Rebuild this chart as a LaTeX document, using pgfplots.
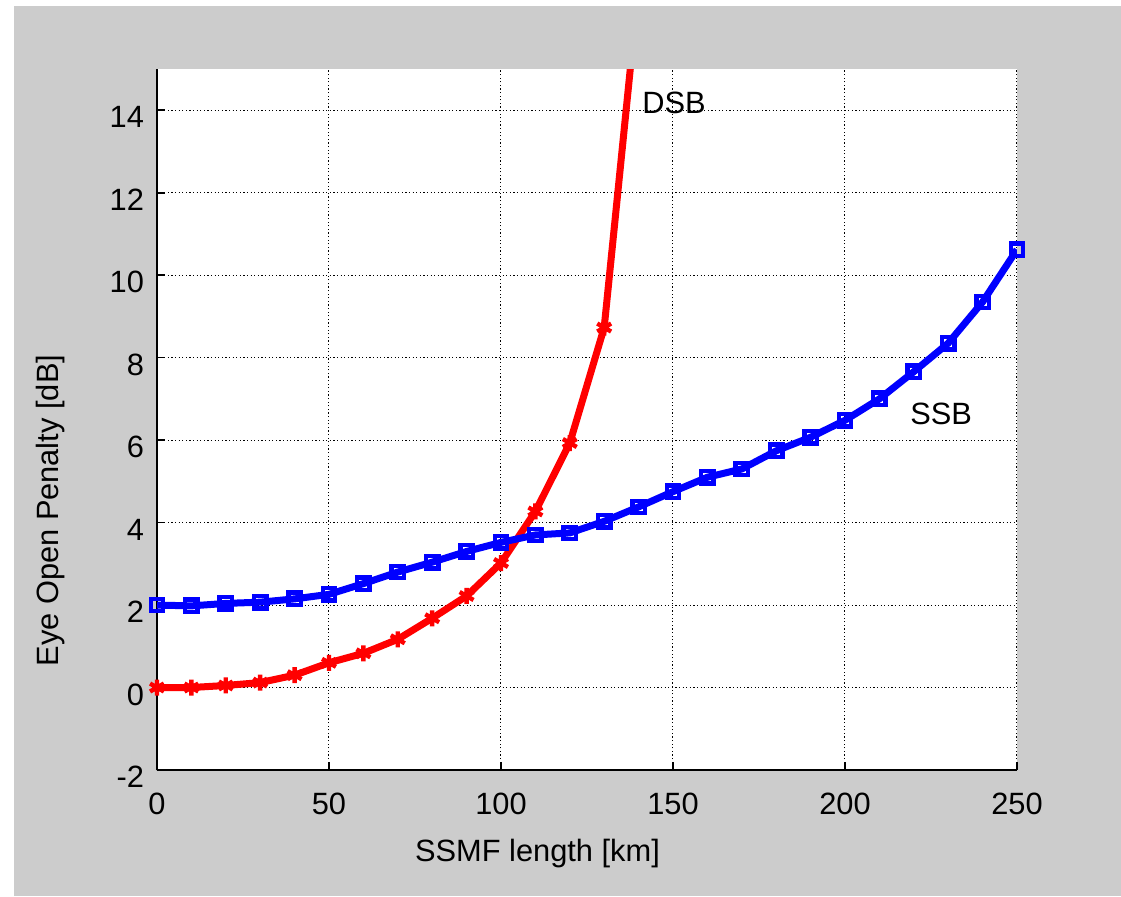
\documentclass[border=0pt]{standalone}
\usepackage{fontspec}
\setmainfont{Liberation Sans}
\usepackage{pgfplots}
\pgfplotsset{compat=1.18}

\definecolor{bggray}{RGB}{204,204,204}
\newcommand{\chartfont}{\fontsize{15.4}{18}\selectfont}

\begin{document}
\begin{tikzpicture}
% page and figure background (1px = 0.5pt)
\fill[white] (-78.5pt,-63pt) rectangle (482pt,385pt);
\fill[bggray] (-71.5pt,-63pt) rectangle (482pt,382pt);

\begin{axis}[
at={(0,0)}, anchor=south west,
scale only axis,
width=430pt, height=350.5pt,
xmin=0, xmax=250,
ymin=-2, ymax=15,
axis lines*=left,
axis line style={-, line width=1pt, black},
axis background/.style={fill=white},
tick align=inside,
major tick length=4pt,
tick style={black, line width=0.8pt},
xtick={0,50,100,150,200,250},
xticklabels={0,50,100,150,200,250},
ytick={-2,0,2,4,6,8,10,12,14},
yticklabels={-2,0,2,4,6,8,10,12,14},
grid=major,
grid style={black, line width=0.5pt, dash pattern=on 0.6pt off 1.2pt},
tick label style={font=\chartfont},
xticklabel style={anchor=north, yshift=-8pt},
yticklabel style={anchor=east, xshift=-3pt, yshift=-3.5pt},
label style={font=\chartfont},
xlabel={SSMF length [km]},
ylabel={Eye Open Penalty [dB]},
xlabel style={at={(rel axis cs:0.4424,0)}, anchor=base, yshift=-45.5pt},
ylabel style={at={(axis description cs:-0.115,0.37)}, anchor=base},
clip=true,
]
\addplot [line width=3.5pt, red, mark=asterisk, mark size=4pt, mark options={solid, line width=2.2pt}]
coordinates {
(0,0.00) (10,0.00) (20,0.05) (30,0.12) (40,0.30) (50,0.60)
(60,0.83) (70,1.17) (80,1.68) (90,2.22) (100,3.02) (110,4.27)
(120,5.93) (130,8.73) (140,17.0)
};
\addplot [line width=3.5pt, blue, mark=square, mark size=3.1pt, mark options={solid, line width=2.2pt}]
coordinates {
(0,2.00) (10,1.98) (20,2.04) (30,2.07) (40,2.15) (50,2.26)
(60,2.52) (70,2.80) (80,3.04) (90,3.30) (100,3.52) (110,3.70)
(120,3.75) (130,4.03) (140,4.38) (150,4.75) (160,5.10) (170,5.30)
(180,5.74) (190,6.07) (200,6.48) (210,7.00) (220,7.66) (230,8.35)
(240,9.35) (250,10.62)
};
\node[font=\chartfont, anchor=base west, inner sep=0pt] at (axis cs:141,13.93) {DSB};
\node[font=\chartfont, anchor=base west, inner sep=0pt] at (axis cs:218.9,6.39) {SSB};
\end{axis}
\end{tikzpicture}
\end{document}
